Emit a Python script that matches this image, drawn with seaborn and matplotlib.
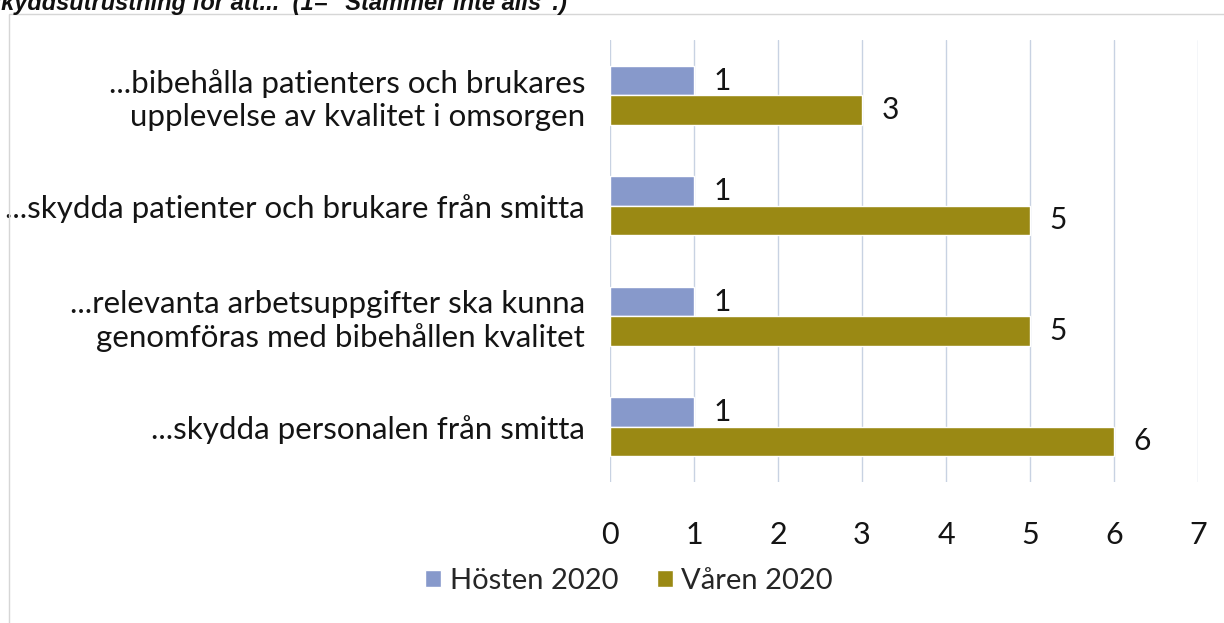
import matplotlib
matplotlib.use('Agg')
import matplotlib.pyplot as plt
import pandas as pd
import seaborn as sns
from matplotlib.patches import Rectangle

# data
items = [
    '...bibehålla patienters och brukares\nupplevelse av kvalitet i omsorgen',
    '...skydda patienter och brukare från smitta',
    '...relevanta arbetsuppgifter ska kunna\ngenomföras med bibehållen kvalitet',
    '...skydda personalen från smitta',
]
periods = ['Hösten 2020', 'Våren 2020']
hosten = [1, 1, 1, 1]
varen = [3, 5, 5, 6]
x_ticks = [0, 1, 2, 3, 4, 5, 6, 7]

colors = {'Hösten 2020': '#8799cb', 'Våren 2020': '#9a8914'}

df = pd.DataFrame({
    'item': items * 2,
    'period': [periods[0]] * len(items) + [periods[1]] * len(items),
    'value': hosten + varen,
})

sns.set_theme(style='white')
plt.rcParams['font.family'] = ['Lato', 'DejaVu Sans']

fig = plt.figure(figsize=(12.24, 6.23), dpi=100)
ax = fig.add_axes([0.4984, 0.2263, 0.4804, 0.7095])

sns.barplot(data=df, y='item', x='value', hue='period', hue_order=periods,
            palette=colors, orient='h', width=0.53, ax=ax, saturation=1)

for cont in ax.containers:
    ax.bar_label(cont, fmt='%d', padding=14, fontsize=21.5, color='#141414')

ax.set_xlim(0, 7)
ax.set_xticks(x_ticks)
ax.set_xlabel('')
ax.set_ylabel('')
ax.grid(axis='x', color='#c8d2e2', linewidth=1)
ax.set_axisbelow(True)
for s in ax.spines.values():
    s.set_visible(False)
ax.tick_params(axis='y', length=0, pad=18, labelsize=22.5, labelcolor='#141414')
ax.tick_params(axis='x', length=0, pad=28, labelsize=22, labelcolor='#141414')
for lab in ax.get_yticklabels():
    lab.set_horizontalalignment('right')
    lab.set_multialignment('right')

handles, labels = ax.get_legend_handles_labels()
ax.get_legend().remove()
fig.legend(handles, labels, loc='center', bbox_to_anchor=(0.514, 0.068), ncol=2,
           frameon=False, fontsize=21, handlelength=0.55, handleheight=0.55,
           handletextpad=0.3, columnspacing=1.3)

# outer chart frame (partly cut off in the scan)
fig.patches.append(Rectangle((9 / 1224, -0.1), 1.2, 1 - 14 / 623 + 0.1,
                             transform=fig.transFigure, fill=False,
                             edgecolor='#d6d6d6', linewidth=1))

# title line, only its lower half is visible
fig.text(-0.01, 1 - 10 / 623, 'skyddsutrustning för att...  (1= "Stämmer inte alls".)',
         family='Liberation Sans', fontsize=17, fontweight='bold', fontstyle='italic',
         va='baseline', ha='left', color='#111111')

fig.savefig('out.png', dpi=100)
